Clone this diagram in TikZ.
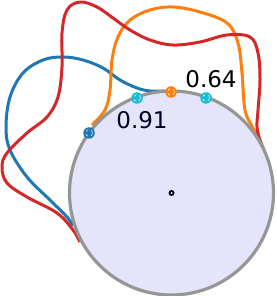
\documentclass[tikz,border=0pt]{standalone}
\usepackage{fontspec}
\setmainfont{DejaVu Sans}
\usetikzlibrary{positioning}
\definecolor{tblue}{RGB}{31,119,180}
\definecolor{torange}{RGB}{255,127,14}
\definecolor{tred}{RGB}{214,39,40}
\definecolor{tcyan}{RGB}{23,190,207}
\definecolor{disk}{RGB}{228,228,250}
\definecolor{rim}{RGB}{150,150,150}
\tikzset{
  curve/.style={line width=3pt,line join=round},
  marker/.style={circle,fill=#1,inner sep=0pt,minimum size=11.5pt,
    path picture={\draw[white,dashed,line width=0.5pt] (path picture bounding box.center) circle (3.5pt);}},
  lbl/.style={font=\fontsize{23pt}{27pt}\selectfont,inner sep=0pt}
}
\begin{document}
\begin{tikzpicture}[x=1pt,y=-1pt]
  \useasboundingbox (0,0) rectangle (276,296);
  % blue loop
  \draw[curve,tblue] plot[smooth,tension=0.6] coordinates {(73,226) (67,217) (50,200) (27,177) (10,150) (6,127) (10,97) (23,73) (43,60) (63,57) (83,60) (103,68) (120,80) (137,88) (150,91) (165,91)};
  % orange loop
  \draw[curve,torange] plot[smooth,tension=0.6] coordinates {(92,125) (105,110) (110,90) (112,60) (118,37) (130,20) (150,10) (173,7) (200,12) (227,23) (238,43) (242,73) (245,110) (253,128) (257,134)};
  % red loop
  \draw[curve,tred] plot[smooth,tension=0.6] coordinates {(80,242) (73,230) (57,213) (27,197) (7,183) (2,167) (7,153) (27,133) (47,117) (58,97) (62,67) (62,33) (67,10) (80,2) (97,7) (113,18) (130,30) (150,40) (173,45) (200,42) (227,35) (250,37) (258,53) (260,80) (258,110) (257,127) (260,140) (264,150)};
  % disk
  \draw[rim,fill=disk,line width=3.2pt] (171.5,193) circle (102);
  \node[circle,fill=black!85!blue,inner sep=0pt,minimum size=6pt] (centre) at (171.5,193) {};
  \fill[white] (centre) circle (1pt);
  \node[marker=tblue] (pa) at (89,133) {};
  \node[marker=tcyan] (pb) at (137,98) {};
  \node[marker=torange] (pc) at (171,92) {};
  \node[marker=tcyan] (pd) at (206,98) {};
  \node[lbl,text=black!85!blue] (va) at (142,120) {0.91};
  \node[lbl] (vb) at (211,79) {0.64};
\end{tikzpicture}
\end{document}
